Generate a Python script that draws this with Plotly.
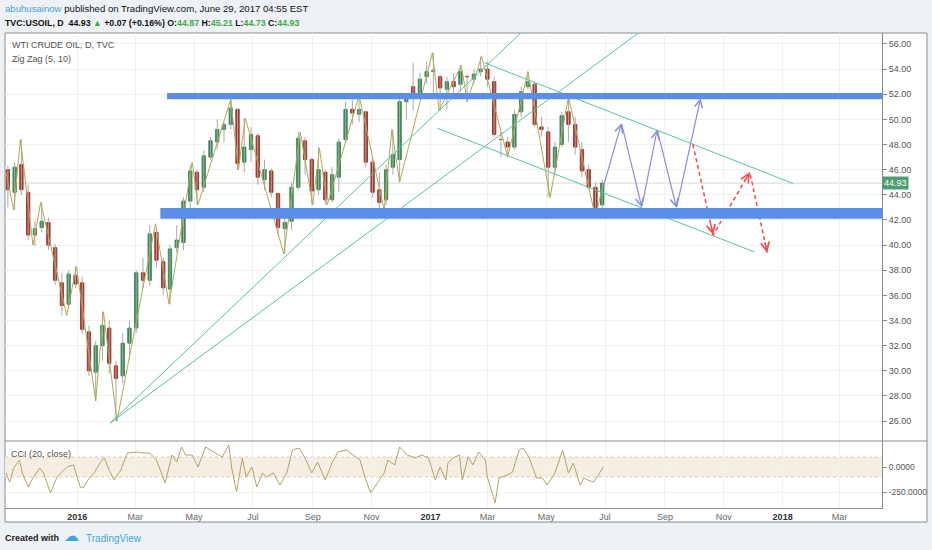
import numpy as np
import pandas as pd
import plotly.graph_objects as go

# weekly candles for TVC:USOIL
week_dates = pd.date_range('2015-10-21', periods=89, freq='7D')
opens = [46.0, 44.2, 46.4, 44.2, 40.8, 41.4, 41.8, 39.8, 37.0, 35.3, 37.6, 37.0, 33.1, 29.9, 32.0, 33.4,
         30.4, 29.6, 32.2, 33.4, 37.8, 37.2, 41.0, 38.7, 36.5, 39.8, 40.2, 43.5, 45.8, 44.6, 47.0, 48.2,
         49.2, 49.6, 50.8, 46.6, 47.6, 48.7, 45.2, 45.9, 44.1, 41.3, 41.9, 44.6, 48.3, 46.8, 44.4, 45.8,
         43.6, 45.4, 48.4, 50.8, 50.4, 50.6, 46.6, 44.4, 43.6, 46.2, 46.8, 51.4, 52.6, 52.0, 53.4, 53.8,
         53.4, 52.4, 53.0, 52.8, 53.4, 53.2, 53.8, 54.0, 53.0, 48.4, 48.2, 47.8, 50.6, 52.6, 52.8, 49.4,
         49.0, 46.2, 48.0, 50.6, 49.6, 47.6, 46.0, 44.6, 43.2]
highs = [46.3, 46.6, 48.4, 44.8, 41.9, 43.4, 42.2, 40.1, 37.8, 38.0, 38.3, 37.5, 33.6, 32.4, 34.7, 34.0,
         30.8, 33.0, 34.0, 38.0, 39.0, 41.6, 41.3, 39.0, 40.0, 41.6, 43.8, 46.4, 46.0, 47.5, 48.6, 50.0,
         49.8, 51.6, 50.9, 50.1, 49.4, 48.9, 46.8, 46.1, 44.2, 42.8, 45.0, 49.0, 48.6, 47.0, 47.8, 46.0,
         46.2, 48.5, 51.4, 51.6, 51.9, 50.7, 46.9, 45.8, 46.4, 49.2, 51.6, 52.0, 54.5, 53.7, 54.6, 55.3,
         53.6, 53.4, 53.7, 54.3, 53.6, 54.0, 55.0, 54.6, 53.4, 49.0, 48.6, 50.8, 52.6, 53.8, 53.0, 50.2,
         49.4, 48.2, 50.6, 51.8, 50.2, 48.2, 46.4, 45.0, 45.2]
lows = [43.0, 42.8, 44.0, 40.4, 39.9, 41.0, 39.6, 36.8, 34.4, 35.0, 36.6, 32.9, 29.6, 27.6, 30.8, 29.8,
        26.0, 29.0, 30.9, 33.0, 36.6, 36.8, 38.2, 36.0, 35.3, 39.4, 39.6, 42.8, 43.2, 44.2, 46.8, 47.6,
        48.2, 49.2, 46.0, 45.8, 46.6, 44.8, 44.4, 43.8, 40.8, 39.3, 41.2, 44.4, 45.6, 43.2, 44.0, 43.2,
        43.4, 44.2, 48.2, 49.6, 49.8, 46.2, 43.8, 42.8, 43.2, 45.6, 45.0, 50.0, 50.7, 51.8, 52.8, 51.8,
        50.7, 50.8, 52.0, 52.2, 51.4, 52.8, 53.4, 52.6, 48.6, 47.0, 47.0, 47.6, 50.2, 52.4, 49.4, 48.6,
        43.8, 45.8, 47.8, 48.2, 47.2, 45.4, 44.4, 42.2, 42.8]
closes = [44.4, 46.2, 44.4, 40.8, 41.3, 41.9, 40.0, 37.2, 35.2, 37.7, 36.9, 33.3, 30.0, 32.0, 33.6, 30.6,
          29.4, 32.2, 33.4, 37.8, 37.2, 40.9, 38.8, 36.6, 39.7, 40.4, 43.5, 45.9, 44.4, 47.1, 48.3, 49.2,
          49.6, 50.9, 46.5, 47.8, 48.8, 45.4, 46.0, 44.2, 41.4, 41.8, 44.6, 48.5, 46.8, 44.3, 46.0, 43.6,
          45.6, 48.2, 50.8, 50.5, 50.8, 46.6, 44.2, 43.4, 46.0, 47.2, 51.4, 51.6, 51.9, 53.2, 53.8, 53.9,
          52.5, 53.0, 52.6, 53.8, 53.4, 53.6, 54.0, 53.2, 48.8, 48.4, 47.8, 50.4, 52.2, 53.0, 49.6, 49.2,
          46.2, 47.8, 50.3, 49.6, 47.8, 45.9, 44.6, 43.0, 44.93]

# Zig Zag (5, 10) pivots
zz_dates = ['2015-10-19', '2015-10-27', '2015-11-03', '2015-11-16', '2015-11-24', '2015-12-21', '2015-12-31',
            '2016-01-20', '2016-01-28', '2016-02-11', '2016-03-22', '2016-04-05', '2016-04-29', '2016-05-05',
            '2016-06-08', '2016-06-16', '2016-06-23', '2016-08-02', '2016-08-19', '2016-09-01', '2016-09-08',
            '2016-09-16', '2016-10-19', '2016-11-14', '2016-11-22', '2016-11-30', '2017-01-03', '2017-01-10',
            '2017-02-02', '2017-02-08', '2017-02-23', '2017-03-22', '2017-04-12', '2017-05-05', '2017-05-24',
            '2017-06-21', '2017-06-29']
zz_prices = [45.8, 42.8, 48.4, 40.0, 43.4, 34.4, 38.3, 27.6, 34.7, 26.0, 41.7, 35.3, 46.6, 43.2, 51.6, 46.0,
             50.1, 39.3, 49.0, 43.2, 47.7, 43.2, 51.9, 42.8, 49.2, 45.0, 55.3, 50.7, 54.3, 51.4, 55.0, 47.0,
             53.8, 43.8, 51.8, 42.2, 44.9]

# CCI (20, close)
cci_dates = ['2015-10-19', '2015-10-23', '2015-10-27', '2015-11-02', '2015-11-05', '2015-11-11', '2015-11-16',
             '2015-11-23', '2015-11-27', '2015-12-04', '2015-12-11', '2015-12-21', '2015-12-28', '2016-01-04',
             '2016-01-07', '2016-01-12', '2016-01-19', '2016-01-25', '2016-01-29', '2016-02-02', '2016-02-08',
             '2016-02-15', '2016-02-19', '2016-02-22', '2016-03-03', '2016-03-09', '2016-03-16', '2016-03-23',
             '2016-04-01', '2016-04-08', '2016-04-13', '2016-04-18', '2016-04-22', '2016-04-29', '2016-05-05',
             '2016-05-13', '2016-05-23', '2016-05-30', '2016-06-06', '2016-06-09', '2016-06-14', '2016-06-20',
             '2016-06-24', '2016-06-30', '2016-07-05', '2016-07-11', '2016-07-15', '2016-07-22', '2016-07-29',
             '2016-08-05', '2016-08-11', '2016-08-18', '2016-08-25', '2016-08-31', '2016-09-06', '2016-09-14',
             '2016-09-21', '2016-09-27', '2016-10-06', '2016-10-13', '2016-10-20', '2016-10-25', '2016-10-31',
             '2016-11-07', '2016-11-14', '2016-11-18', '2016-11-25', '2016-11-30', '2016-12-08', '2016-12-16',
             '2016-12-23', '2016-12-30', '2017-01-06', '2017-01-11', '2017-01-17', '2017-01-19', '2017-01-24',
             '2017-01-31', '2017-02-03', '2017-02-09', '2017-02-14', '2017-02-20', '2017-02-27', '2017-03-01',
             '2017-03-09', '2017-03-13', '2017-03-22', '2017-03-27', '2017-04-03', '2017-04-07', '2017-04-13',
             '2017-04-21', '2017-04-27', '2017-05-02', '2017-05-10', '2017-05-18', '2017-05-24', '2017-05-29',
             '2017-06-02', '2017-06-05', '2017-06-09', '2017-06-13', '2017-06-19', '2017-06-23', '2017-06-29']
cci_values = [-60, -150, -10, 70, -60, -200, -110, -10, -60, -260, -100, 0, 20, -200, -210, -130, -50, 50, 90,
              -10, -130, -30, 70, 140, 150, 140, 140, 70, -160, 120, 50, 200, 120, 120, 0, 200, 140, 100, 220,
              -10, -250, 90, -100, 0, -200, -60, -100, -60, -180, -60, 170, 190, 70, -60, 50, -130, 40, 150,
              170, 120, 70, -100, -260, -160, -60, 70, 20, 200, 120, 90, 120, 90, -130, 0, -130, 40, 90, 120,
              -130, 100, 20, 150, 70, -100, -360, -110, -80, -50, 170, 190, 100, -110, -110, -180, -60, 170,
              -60, 40, -80, -180, -110, -130, -150, -100, 0]

# drawings on the chart
fan_lines = [(['2016-02-04', '2017-04-05'], [25.85, 56.9]),
             (['2016-02-04', '2017-08-05'], [25.85, 56.9])]
channel_lines = [(['2017-02-26', '2018-01-12'], [54.5, 44.9]),
                 (['2017-01-08', '2017-12-03'], [49.3, 39.45])]
zones = [('2016-04-03', 51.6, 52.1), ('2016-03-27', 42.1, 42.95)]
blue_path_dates = ['2017-06-29', '2017-07-18', '2017-08-08', '2017-08-24', '2017-09-13', '2017-10-08']
blue_path_prices = [44.6, 49.7, 43.0, 49.2, 42.95, 51.7]
red_path_dates = ['2017-09-30', '2017-10-21', '2017-11-28', '2017-12-16']
red_path_prices = [48.0, 40.8, 45.8, 39.4]
last_price = 44.93

x_ticks = ['2016-01-01', '2016-03-01', '2016-05-01', '2016-07-01', '2016-09-01', '2016-11-01',
           '2017-01-01', '2017-03-01', '2017-05-01', '2017-07-01', '2017-09-01', '2017-11-01',
           '2018-01-01', '2018-03-01']
x_labels = ['2016', 'Mar', 'May', 'Jul', 'Sep', 'Nov', '2017', 'Mar', 'May', 'Jul', 'Sep', 'Nov', '2018', 'Mar']
price_ticks = list(range(26, 57, 2))
cci_ticks = [0, -250]

W, H = 932, 550
def px(x):
    return x / W
def py(y):
    return 1 - y / H

TXT = 'Liberation Sans, Arial, sans-serif'
GREEN = '#3b8a58'
RED = '#a5382e'
TEAL = '#5cbfa6'
BLUE_ARROW = '#8b8fd8'
RED_ARROW = '#f04b4b'
FRAME = '#8c8c8c'

fig = go.Figure()

# gray wicks
wx, wy = [], []
for d, lo, hi in zip(week_dates, lows, highs):
    wx += [d, d, None]
    wy += [lo, hi, None]
fig.add_trace(go.Scatter(x=wx, y=wy, mode='lines', line=dict(color='#a9a9a9', width=1),
                         hoverinfo='skip', yaxis='y'))

o = np.array(opens)
c = np.array(closes)
fig.add_trace(go.Candlestick(x=week_dates, open=o, close=c, high=np.maximum(o, c), low=np.minimum(o, c),
                             increasing=dict(fillcolor=GREEN, line=dict(color=GREEN, width=1)),
                             decreasing=dict(fillcolor=RED, line=dict(color=RED, width=1)),
                             whiskerwidth=0, yaxis='y'))

fig.add_trace(go.Scatter(x=zz_dates, y=zz_prices, mode='lines', line=dict(color='#b3a953', width=1), yaxis='y'))

for xs, ys in fan_lines + channel_lines:
    fig.add_trace(go.Scatter(x=xs, y=ys, mode='lines', line=dict(color=TEAL, width=1), yaxis='y'))

fig.add_trace(go.Scatter(x=red_path_dates, y=red_path_prices, mode='lines',
                         line=dict(color=RED_ARROW, width=1.5, dash='4px,3px'), yaxis='y'))

fig.add_trace(go.Scatter(x=cci_dates, y=cci_values, mode='lines', line=dict(color='#b4a26c', width=1),
                         yaxis='y2'))

shapes = [
    dict(type='rect', xref='paper', yref='paper', x0=px(5), x1=px(927), y0=py(522), y1=py(33),
         fillcolor='white', line=dict(color=FRAME, width=1), layer='below'),
    dict(type='line', xref='paper', yref='paper', x0=px(5), x1=px(927), y0=py(441), y1=py(441),
         line=dict(color=FRAME, width=1)),
    dict(type='rect', xref='x domain', yref='y2', x0=0, x1=1, y0=-100, y1=100,
         fillcolor='#f5efe1', line=dict(width=0), layer='below'),
    dict(type='line', xref='x domain', yref='y2', x0=0, x1=1, y0=100, y1=100,
         line=dict(color='#d8cfbb', width=1, dash='dot'), layer='below'),
    dict(type='line', xref='x domain', yref='y2', x0=0, x1=1, y0=-100, y1=-100,
         line=dict(color='#d8cfbb', width=1, dash='dot'), layer='below'),
    dict(type='line', xref='x domain', yref='y', x0=0, x1=1, y0=last_price, y1=last_price,
         line=dict(color='#d6d6d6', width=1), layer='below'),
]
for start, lo, hi in zones:
    shapes.append(dict(type='rect', xref='x', yref='y', x0=start, x1='2018-04-20', y0=lo, y1=hi,
                       fillcolor='#5b8ee6', line=dict(width=0), layer='above'))

annotations = []
# blue projection arrows
for i in range(1, len(blue_path_dates)):
    annotations.append(dict(x=blue_path_dates[i], y=blue_path_prices[i], xref='x', yref='y',
                            ax=blue_path_dates[i - 1], ay=blue_path_prices[i - 1], axref='x', ayref='y',
                            text='', showarrow=True, arrowhead=5, arrowsize=1.3, arrowwidth=1.2,
                            arrowcolor=BLUE_ARROW))
# heads of the dashed red arrows
for i in range(1, len(red_path_dates)):
    t0, t1 = pd.Timestamp(red_path_dates[i - 1]), pd.Timestamp(red_path_dates[i])
    p0, p1 = red_path_prices[i - 1], red_path_prices[i]
    tb = t0 + (t1 - t0) * 0.85
    pb = p0 + (p1 - p0) * 0.85
    annotations.append(dict(x=red_path_dates[i], y=p1, xref='x', yref='y',
                            ax=tb.strftime('%Y-%m-%d %H:%M'), ay=pb, axref='x', ayref='y',
                            text='', showarrow=True, arrowhead=5, arrowsize=1.3, arrowwidth=1.3,
                            arrowcolor=RED_ARROW))

up = '#3daa3d'
annotations += [
    dict(x=px(3), y=py(9), xref='paper', yref='paper', xanchor='left', yanchor='middle', showarrow=False,
         text="<span style='color:#3ea6d9'>abuhusainow</span> published on TradingView.com, June 29, 2017 04:55 EST",
         font=dict(family=TXT, size=9.6, color='#111')),
    dict(x=px(3), y=py(23), xref='paper', yref='paper', xanchor='left', yanchor='middle', showarrow=False,
         text=("<b>TVC:USOIL, D  44.93 <span style='color:%s'>▲</span> +0.07 (+0.16%%) "
               "O:<span style='color:%s'>44.87</span> H:<span style='color:%s'>45.21</span> "
               "L:<span style='color:%s'>44.73</span> C:<span style='color:%s'>44.93</span></b>") % (up, up, up, up, up),
         font=dict(family=TXT, size=8.8, color='#111')),
    dict(x=px(10), y=py(45), xref='paper', yref='paper', xanchor='left', yanchor='middle', showarrow=False,
         text='WTI CRUDE OIL, D, TVC', font=dict(family=TXT, size=9, color='#555')),
    dict(x=px(10), y=py(59), xref='paper', yref='paper', xanchor='left', yanchor='middle', showarrow=False,
         text='Zig Zag (5, 10)', font=dict(family=TXT, size=9, color='#555')),
    dict(x=px(9), y=py(454), xref='paper', yref='paper', xanchor='left', yanchor='middle', showarrow=False,
         text='CCI (20, close)', font=dict(family=TXT, size=9, color='#555')),
    dict(x=px(882), y=last_price, xref='paper', yref='y', xanchor='left', yanchor='middle', showarrow=False,
         text='%.2f' % last_price, bgcolor='#4e9e72', borderpad=1,
         font=dict(family=TXT, size=9, color='white')),
    dict(x=px(3), y=py(538), xref='paper', yref='paper', xanchor='left', yanchor='middle', showarrow=False,
         text='<b>Created with</b>', font=dict(family=TXT, size=9, color='#222')),
    dict(x=px(62), y=py(536), xref='paper', yref='paper', xanchor='left', yanchor='middle', showarrow=False,
         text='☁', font=dict(family='DejaVu Sans', size=15, color='#3ea6d9')),
    dict(x=px(84), y=py(538), xref='paper', yref='paper', xanchor='left', yanchor='middle', showarrow=False,
         text='TradingView', font=dict(family=TXT, size=10, color='#3ea6d9')),
]

tick_text = ["<span style='color:#333'><b>%s</b></span>" % t if t.isdigit() else t for t in x_labels]

fig.update_layout(
    width=W, height=H,
    margin=dict(l=0, r=0, t=0, b=0),
    paper_bgcolor='#eef1f5', plot_bgcolor='white',
    showlegend=False,
    shapes=shapes, annotations=annotations,
    xaxis=dict(domain=[px(5), px(882)], range=['2015-10-18', '2018-04-14'], type='date', anchor='y2',
               tickvals=x_ticks, ticktext=tick_text, showgrid=True, gridcolor='#f0f0f0',
               showline=True, linecolor=FRAME, ticks='', zeroline=False,
               tickfont=dict(family=TXT, size=9, color='#666'), rangeslider=dict(visible=False),
               automargin=False),
    yaxis=dict(domain=[py(441), py(33)], range=[24.42, 56.87], side='right', anchor='x',
               tickvals=price_ticks, ticktext=['%.2f' % v for v in price_ticks],
               ticks='outside', ticklen=4, tickcolor=FRAME, showline=True, linecolor=FRAME,
               showgrid=True, gridcolor='#f0f0f0', zeroline=False,
               tickfont=dict(family=TXT, size=9, color='#555'), automargin=False),
    yaxis2=dict(domain=[py(508), py(441)], range=[-410, 260], side='right', anchor='x',
                tickvals=cci_ticks, ticktext=['%.4f' % v for v in cci_ticks],
                ticks='outside', ticklen=4, tickcolor=FRAME, showline=True, linecolor=FRAME,
                showgrid=True, gridcolor='#f3f3f3', zeroline=False,
                tickfont=dict(family=TXT, size=8.5, color='#555'), automargin=False),
)

fig.write_html('out.html', config={'displayModeBar': False},
               post_script="document.body.style.margin='0';document.body.style.overflow='hidden';")
